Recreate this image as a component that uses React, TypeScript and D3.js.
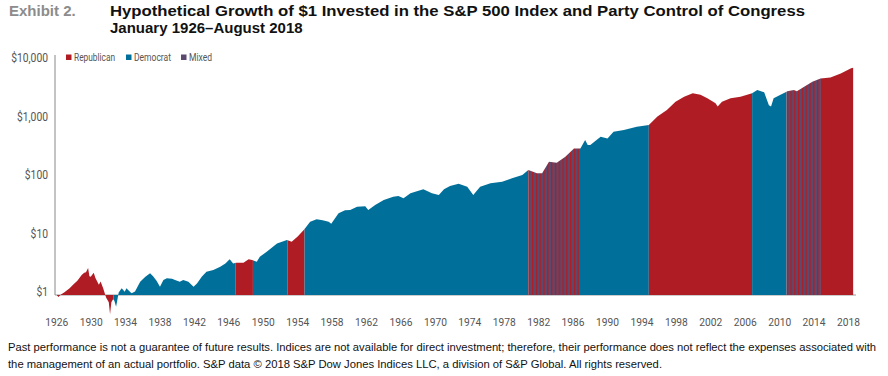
import React from 'react';
import * as d3 from 'd3';

// Growth of $1
const dates = [
  1926.0, 1926.2, 1926.5, 1926.9, 1927.5, 1927.9, 1928.4, 1928.9, 1929.2, 1929.4,
  1929.65, 1929.8, 1929.95, 1930.3, 1930.5, 1930.9, 1931.1, 1931.4, 1931.6, 1931.75,
  1931.95, 1932.05, 1932.2, 1932.35, 1932.55, 1932.7, 1932.9, 1933.0, 1933.2, 1933.55,
  1933.9, 1934.1, 1934.3, 1934.7, 1935.1, 1935.7, 1936.3, 1936.85, 1937.2, 1937.6,
  1938.0, 1938.4, 1938.8, 1939.4, 1939.75, 1940.3, 1940.7, 1941.3, 1941.9, 1942.3,
  1942.85, 1943.4, 1944.2, 1945.0, 1945.6, 1946.1, 1946.5, 1946.9, 1947.7, 1948.3,
  1948.7, 1949.25, 1949.6, 1950.4, 1951.6, 1952.75, 1953.3, 1954.0, 1954.7, 1955.45,
  1956.2, 1956.9, 1957.6, 1957.9, 1958.75, 1959.5, 1960.1, 1960.9, 1961.85, 1962.2,
  1963.0, 1964.0, 1965.1, 1965.7, 1966.3, 1967.1, 1968.6, 1969.6, 1970.4, 1971.0,
  1971.7, 1972.7, 1973.7, 1974.4, 1975.2, 1976.4, 1977.75, 1978.9, 1980.1, 1980.8,
  1981.8, 1982.4, 1983.2, 1984.1, 1985.1, 1986.1, 1986.85, 1987.4, 1987.7, 1988.0,
  1989.2, 1990.0, 1990.7, 1991.9, 1993.4, 1994.8, 1995.8, 1996.9, 1997.9, 1998.9,
  1999.9, 2000.8, 2001.6, 2002.55, 2002.8, 2003.3, 2004.3, 2005.45, 2006.8, 2007.4,
  2008.2, 2008.75, 2009.0, 2009.3, 2010.1, 2010.9, 2011.65, 2012.0, 2012.8, 2013.8,
  2014.75, 2015.9, 2017.1, 2018.3, 2018.55,
];
const values = [
  1.0, 0.92, 1.02, 1.11, 1.3, 1.5, 1.75, 2.2, 2.4, 2.45,
  2.9, 2.1, 2.05, 2.4, 1.95, 1.5, 1.7, 1.3, 1.05, 0.9,
  0.8, 0.75, 0.47, 0.75, 0.85, 0.8, 0.63, 0.75, 1.1, 1.3,
  1.14, 1.3, 1.22, 1.07, 1.15, 1.69, 2.06, 2.35, 2.1, 1.75,
  1.39, 1.8, 1.93, 1.9, 1.8, 1.69, 1.8, 1.69, 1.39, 1.58,
  2.06, 2.5, 2.67, 3.05, 3.47, 4.1, 3.47, 3.57, 3.57, 4.07,
  3.96, 3.71, 4.5, 5.5, 7.6, 8.7, 8.15, 10.0, 12.9, 17.9,
  19.7, 19.0, 17.9, 16.5, 25.0, 28.0, 28.3, 32.3, 33.0, 28.3,
  34.5, 42, 48, 49.4, 45, 54.7, 64, 54.7, 51.1, 64,
  73, 80, 71, 51, 71, 81, 86, 98.6, 112, 137,
  120, 120, 190, 183, 231, 320, 320, 446, 368, 368,
  508, 475, 620, 660, 755, 805, 1120, 1450, 2020, 2460,
  2800, 2640, 2300, 1900, 1660, 2020, 2300, 2460, 2800, 3200,
  2930, 1760, 1660, 2300, 2640, 3050, 3200, 3050, 3600, 4420,
  5040, 5200, 6100, 7500, 7700,
];

// Party control of Congress periods
const periodStarts = [1926.0, 1932.6, 1946.8, 1948.8, 1952.8, 1954.8, 1980.8, 1986.8, 1994.8, 2006.8, 2010.8, 2014.8];
const periodEnds = [1932.6, 1946.8, 1948.8, 1952.8, 1954.8, 1980.8, 1986.8, 1994.8, 2006.8, 2010.8, 2014.8, 2018.6];
const periodParty = ['R', 'D', 'R', 'D', 'R', 'D', 'M', 'D', 'R', 'D', 'M', 'R'];

const legendLabels = ['Republican', 'Democrat', 'Mixed'];
const yTickValues = [1, 10, 100, 1000, 10000];
const yTickLabels = ['$1', '$10', '$100', '$1,000', '$10,000'];
const xTickYears = [1926, 1930, 1934, 1938, 1942, 1946, 1950, 1954, 1958, 1962, 1966, 1970, 1974, 1978, 1982, 1986, 1990, 1994, 1998, 2002, 2006, 2010, 2014, 2018];

const RED = '#b01c24';
const BLUE = '#00709a';
const PURPLE = '#5b4a6e';
const TEXT = '#555555';

export default function App() {
  const W = 888;
  const H = 376;
  const x = d3.scaleLinear().domain([1926, 2018]).range([56.7, 848.5]);
  const y = d3.scaleLog().domain([1, 10000]).range([295, 61]);

  const data: [number, number][] = dates.map((d, i) => [d, values[i]]);
  const area = d3
    .area<[number, number]>()
    .x((d) => x(d[0]))
    .y0(y(1))
    .y1((d) => y(d[1]))
    .curve(d3.curveLinear);
  const pathD = area(data) || '';

  const fillFor = (p: string) => (p === 'R' ? RED : p === 'D' ? BLUE : 'url(#mixedStripes)');
  const legendColors = [RED, BLUE, PURPLE];
  const legendX = [66, 126, 181];
  const legendW = [41, 37, 23];

  return (
    <svg
      width={W}
      height={H}
      style={{ position: 'absolute', left: 0, top: 0, background: '#fff' }}
      fontFamily="Roboto, 'Liberation Sans', sans-serif"
    >
      <defs>
        <pattern id="mixedStripes" width={3.8} height={10} patternUnits="userSpaceOnUse">
          <rect width={3.8} height={10} fill={PURPLE} />
          <rect width={1.4} height={10} fill={RED} />
        </pattern>
        {periodStarts.map((s, i) => (
          <clipPath id={`clip-${i}`} key={i}>
            <rect x={x(s)} y={0} width={x(periodEnds[i]) - x(s)} height={H} />
          </clipPath>
        ))}
      </defs>

      {/* Title */}
      <text x={9} y={16} fontFamily="'Liberation Sans', Arial, sans-serif" fontWeight="bold" fontSize={15} fill="#8c8c8c">
        Exhibit 2.
      </text>
      <text
        x={110}
        y={16}
        fontFamily="'Liberation Sans', Arial, sans-serif"
        fontWeight="bold"
        fontSize={15}
        fill="#111"
        textLength={695}
        lengthAdjust="spacingAndGlyphs"
      >
        Hypothetical Growth of $1 Invested in the S&amp;P 500 Index and Party Control of Congress
      </text>
      <text x={110} y={32.5} fontFamily="'Liberation Sans', Arial, sans-serif" fontWeight="bold" fontSize={15} fill="#111">
        January 1926–August 2018
      </text>

      {/* baseline */}
      <line x1={55} x2={856} y1={y(1)} y2={y(1)} stroke="#999" strokeWidth={1} />

      {/* areas by party */}
      {periodStarts.map((s, i) => (
        <path key={i} d={pathD} fill={fillFor(periodParty[i])} clipPath={`url(#clip-${i})`} />
      ))}

      {/* y axis */}
      <line x1={55} x2={55} y1={55} y2={y(1)} stroke="#888" strokeWidth={1} />
      {yTickValues.map((v, i) => (
        <text
          key={v}
          transform={`translate(48,${y(v) - 3}) scale(0.86,1)`}
          dy="0.35em"
          textAnchor="end"
          fontSize={12}
          fill={TEXT}
        >
          {yTickLabels[i]}
        </text>
      ))}

      {/* x labels */}
      {xTickYears.map((yr) => (
        <text
          key={yr}
          transform={`translate(${x(yr)},326) scale(0.89,1)`}
          textAnchor="middle"
          fontSize={11.5}
          fill={TEXT}
        >
          {yr}
        </text>
      ))}

      {/* legend */}
      {legendLabels.map((l, i) => (
        <g key={l}>
          <rect x={legendX[i]} y={54.5} width={5.5} height={5.5} fill={legendColors[i]} />
          <text
            x={legendX[i] + 8}
            y={57.5}
            dy="0.35em"
            fontSize={10.5}
            fill={TEXT}
            textLength={legendW[i]}
            lengthAdjust="spacingAndGlyphs"
          >
            {l}
          </text>
        </g>
      ))}

      {/* footnote */}
      <text x={8} y={351} fontFamily="'Liberation Sans', Arial, sans-serif" fontSize={10.5} fill="#111" textLength={868} lengthAdjust="spacingAndGlyphs">
        Past performance is not a guarantee of future results. Indices are not available for direct investment; therefore, their performance does not reflect the expenses associated with
      </text>
      <text x={8} y={368} fontFamily="'Liberation Sans', Arial, sans-serif" fontSize={10.5} fill="#111" textLength={654} lengthAdjust="spacingAndGlyphs">
        the management of an actual portfolio. S&amp;P data © 2018 S&amp;P Dow Jones Indices LLC, a division of S&amp;P Global. All rights reserved.
      </text>
    </svg>
  );
}
